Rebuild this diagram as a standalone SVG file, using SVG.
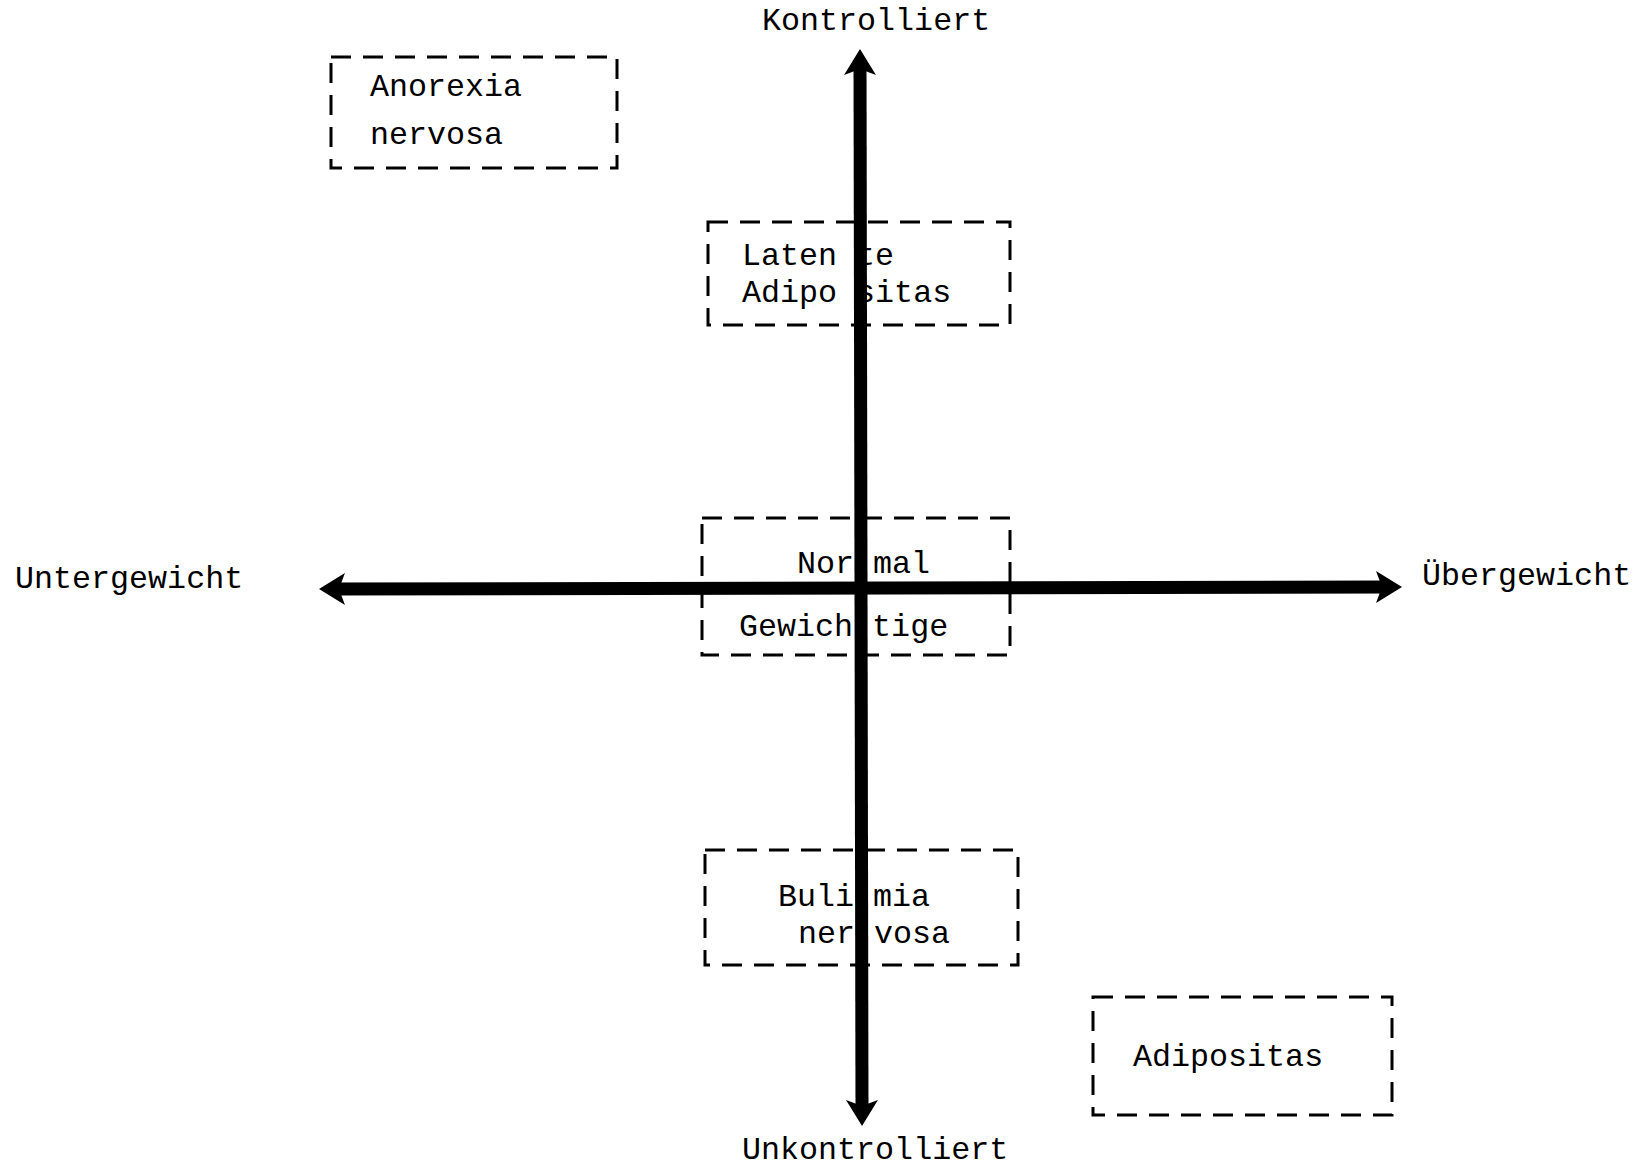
<svg xmlns="http://www.w3.org/2000/svg" width="1641" height="1171" viewBox="0 0 1641 1171">
<defs>
<style>
text{font-family:"Liberation Mono","Courier New",monospace;font-size:31.7px;fill:#000}
.box{fill:none;stroke:#000;stroke-width:3;stroke-dasharray:20 12}
.axis{stroke:#000;stroke-width:13;fill:none;marker-start:url(#head);marker-end:url(#head)}
</style>
<marker id="head" markerUnits="userSpaceOnUse" viewBox="0 0 26 32" markerWidth="26" markerHeight="32" refX="14" refY="16" orient="auto-start-reverse">
<path d="M0,0 L26,16 L0,32 L6,16 Z" fill="#000"/>
</marker>
</defs>
<rect width="1641" height="1171" fill="#fff"/>
<g id="anorexia">
<rect class="box" x="331" y="57" width="286" height="111"/>
<text x="370" y="96">Anorexia</text>
<text x="370" y="144">nervosa</text>
</g>
<g id="latente">
<rect class="box" x="708" y="222" width="302" height="103"/>
<text x="742" y="265">Laten te</text>
<text x="742" y="302">Adipo sitas</text>
</g>
<g id="normal">
<rect class="box" x="702" y="518" width="308" height="137"/>
<text x="797" y="573">Nor mal</text>
<text x="739" y="636">Gewich tige</text>
</g>
<g id="bulimia">
<rect class="box" x="705" y="850" width="313" height="115"/>
<text x="778" y="906">Buli mia</text>
<text x="798" y="943">ner vosa</text>
</g>
<g id="adipositas">
<rect class="box" x="1093" y="997" width="299" height="118"/>
<text x="1133" y="1066">Adipositas</text>
</g>
<g id="connectors">
<line class="axis" x1="331" y1="589" x2="1390" y2="587"/>
<line class="axis" x1="860" y1="61" x2="862" y2="1114"/>
</g>
<g id="labels">
<text x="762" y="30">Kontrolliert</text>
<text x="742" y="1159">Unkontrolliert</text>
<text x="15" y="588">Untergewicht</text>
<text x="1422" y="585">Übergewicht</text>
</g>
</svg>
